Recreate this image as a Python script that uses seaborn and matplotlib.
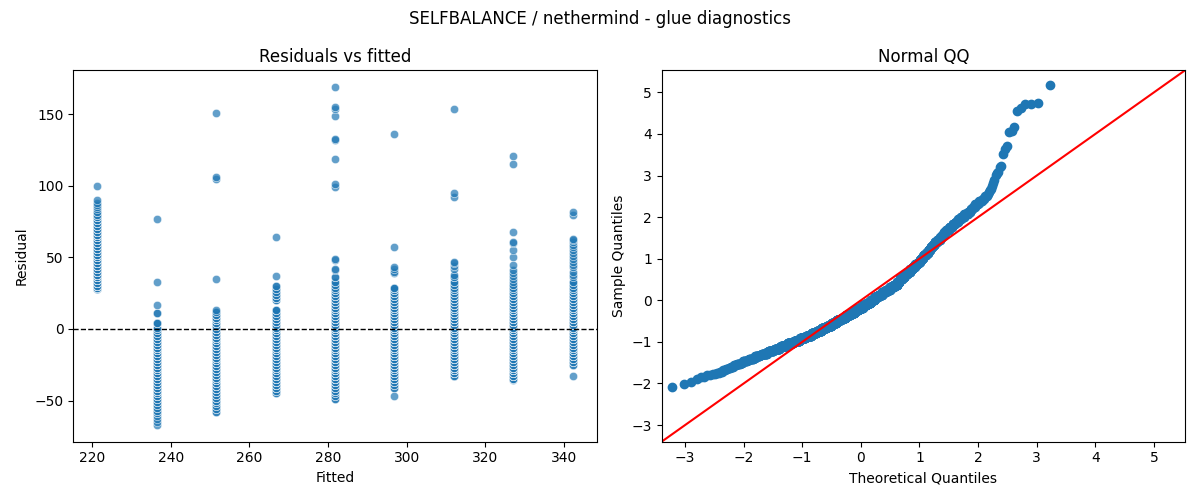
import numpy as np
import pandas as pd
import matplotlib
matplotlib.use("Agg")
import matplotlib.pyplot as plt
import seaborn as sns
from statistics import NormalDist

# fitted value of each vertical stripe
fitted = [221.3, 236.4, 251.5, 266.7, 281.8, 296.9, 312.0, 327.1, 342.3]

# residual levels and how many points sit on each level, per stripe
res_221 = [28, 29, 30, 32, 34, 36, 38, 40, 42, 44, 46, 48, 50, 52, 54, 56, 58, 60, 62, 64,
           66, 68, 70, 72, 74, 76, 78, 80, 82, 84, 85, 87, 88, 90, 100]
cnt_221 = [3, 4, 5, 6, 7, 9, 9, 7, 6, 7, 10, 10, 6, 7, 6, 9, 9, 6, 6, 6,
           8, 7, 5, 4, 4, 5, 4, 2, 2, 1, 1, 1, 1, 1, 1]

res_236 = [-67, -65, -63, -61, -59, -57, -55, -53, -51, -49, -47, -45, -43, -41, -39, -37,
           -35, -33, -31, -29, -27, -25, -23, -21, -19, -17, -15, -13, -11, -9, -7, -5, -3,
           -1, 1, 4, 11, 17, 33, 77]
cnt_236 = [1, 1, 1, 1, 2, 2, 2, 2, 3, 3, 4, 4, 5, 6, 5, 5,
           6, 6, 6, 6, 6, 7, 7, 7, 7, 7, 7, 6, 6, 5, 5, 4, 3,
           3, 2, 3, 2, 1, 1, 1]

res_251 = [-58, -56, -54, -52, -50, -48, -46, -44, -42, -40, -38, -36, -34, -32, -30, -28,
           -26, -24, -22, -20, -18, -16, -14, -12, -10, -8, -6, -4, -2, 0, 2, 4, 6, 8, 10,
           12, 13, 35, 105, 106, 151]
cnt_251 = [2, 2, 2, 2, 3, 3, 3, 4, 5, 5, 5, 5, 5, 5, 5, 5,
           6, 5, 6, 6, 7, 6, 7, 7, 6, 5, 6, 5, 6, 6, 5, 5, 5, 5, 4,
           2, 1, 1, 1, 1, 1]

res_267 = [-45, -43, -41, -39, -37, -35, -33, -31, -29, -27, -25, -23, -21, -19, -17, -15,
           -13, -11, -9, -7, -5, -3, -1, 1, 3, 5, 7, 9, 11, 13, 20, 22, 24, 26, 28, 30, 37, 64]
cnt_267 = [2, 2, 3, 5, 6, 5, 5, 5, 5, 5, 5, 5, 5, 6, 6, 6,
           6, 7, 7, 7, 7, 6, 5, 5, 5, 5, 5, 4, 3, 3, 2, 3, 3, 2, 2, 2, 1, 1]

res_282 = [-49, -47, -45, -43, -41, -39, -37, -35, -33, -31, -29, -27, -25, -23, -21, -19,
           -17, -15, -13, -11, -9, -7, -5, -3, -1, 1, 3, 5, 7, 9, 11, 13, 15, 17, 19, 21, 23,
           25, 27, 29, 31, 33, 36, 41, 42, 48, 49, 99, 101, 119, 132, 133, 149, 154, 155, 169]
cnt_282 = [2, 2, 2, 3, 3, 4, 5, 6, 6, 6, 6, 6, 6, 6, 6, 6,
           6, 7, 7, 7, 7, 6, 6, 6, 6, 6, 6, 6, 6, 6, 5, 5, 4, 4, 4, 4, 4,
           3, 3, 2, 2, 2, 2, 1, 1, 1, 1, 1, 1, 1, 1, 1, 1, 1, 1, 1]

res_297 = [-47, -41, -39, -37, -35, -33, -31, -29, -27, -25, -23, -21, -19, -17, -15, -13,
           -11, -9, -7, -5, -3, -1, 1, 3, 5, 7, 9, 11, 13, 15, 17, 19, 21, 23, 25, 27, 29,
           39, 40, 42, 43, 57, 136]
cnt_297 = [1, 2, 2, 3, 5, 5, 5, 5, 5, 5, 5, 6, 6, 6, 6, 6,
           5, 5, 5, 5, 5, 6, 5, 5, 6, 6, 6, 5, 5, 4, 4, 4, 3, 3, 4, 3, 3,
           1, 1, 1, 1, 1, 1]

res_312 = [-33, -31, -29, -27, -25, -23, -21, -19, -17, -15, -13, -11, -9, -7, -5, -3, -1,
           1, 3, 5, 7, 9, 11, 13, 15, 17, 19, 21, 23, 25, 27, 29, 31, 33, 36, 38, 42, 44,
           46, 47, 92, 95, 154]
cnt_312 = [3, 4, 6, 7, 5, 5, 5, 5, 5, 5, 5, 6, 6, 6, 6, 6, 6,
           5, 5, 6, 6, 6, 6, 6, 4, 4, 4, 4, 4, 3, 3, 2, 2, 2, 2, 1, 1, 1,
           1, 1, 1, 1, 1]

res_327 = [-36, -35, -33, -31, -29, -27, -25, -23, -21, -19, -17, -15, -13, -11, -9, -7, -5,
           -3, -1, 1, 3, 5, 7, 9, 11, 13, 15, 17, 19, 21, 23, 25, 27, 29, 31, 33, 35, 37,
           39, 41, 45, 50, 55, 60, 61, 68, 115, 121]
cnt_327 = [1, 3, 4, 5, 6, 7, 5, 5, 5, 5, 5, 5, 6, 6, 5, 5, 6,
           6, 6, 5, 5, 6, 6, 6, 6, 6, 4, 4, 4, 4, 4, 3, 2, 2, 2, 1, 1, 1,
           1, 1, 1, 1, 1, 1, 1, 1, 1, 1]

res_342 = [-33, -25, -23, -21, -19, -17, -15, -13, -11, -9, -7, -5, -3, -1, 1, 3, 5, 7, 9,
           11, 13, 15, 17, 19, 21, 23, 25, 27, 29, 31, 33, 36, 38, 40, 43, 45, 47, 49, 51,
           53, 55, 57, 59, 61, 62, 63, 80, 82]
cnt_342 = [1, 2, 3, 4, 5, 6, 4, 4, 5, 4, 5, 5, 5, 5, 5, 5, 5, 5, 6,
           5, 5, 4, 4, 4, 4, 4, 3, 3, 2, 2, 2, 1, 1, 1, 1, 1, 1, 1, 1,
           1, 1, 1, 1, 1, 1, 1, 1, 1]

levels = [res_221, res_236, res_251, res_267, res_282, res_297, res_312, res_327, res_342]
counts = [cnt_221, cnt_236, cnt_251, cnt_267, cnt_282, cnt_297, cnt_312, cnt_327, cnt_342]

rows = []
for f, lv, n in zip(fitted, levels, counts):
    for v, k in zip(lv, n):
        rows += [(f, v)] * k
df = pd.DataFrame(rows, columns=["Fitted", "Residual"])

# normal QQ of the standardised residuals
r = np.sort(df["Residual"].to_numpy(dtype=float))
z = (r - r.mean()) / r.std()
N = len(z)
theo = np.array([NormalDist().inv_cdf(i / (N + 1)) for i in range(1, N + 1)])

fig, (ax1, ax2) = plt.subplots(1, 2, figsize=(12, 5))

sns.scatterplot(data=df, x="Fitted", y="Residual", alpha=0.7, ax=ax1)
ax1.axhline(0, color="black", linestyle="--", linewidth=1)
ax1.set_title("Residuals vs fitted")

sns.scatterplot(x=theo, y=z, ax=ax2, color="C0", edgecolor="C0", s=36, linewidth=1)
lim = [-3.4, 5.53]
ax2.plot(lim, lim, color="red")
ax2.set_xlim(lim)
ax2.set_ylim(lim)
ax2.set_xlabel("Theoretical Quantiles")
ax2.set_ylabel("Sample Quantiles")
ax2.set_title("Normal QQ")

fig.suptitle("SELFBALANCE / nethermind - glue diagnostics")
fig.tight_layout()
fig.savefig("out.png", dpi=100)
